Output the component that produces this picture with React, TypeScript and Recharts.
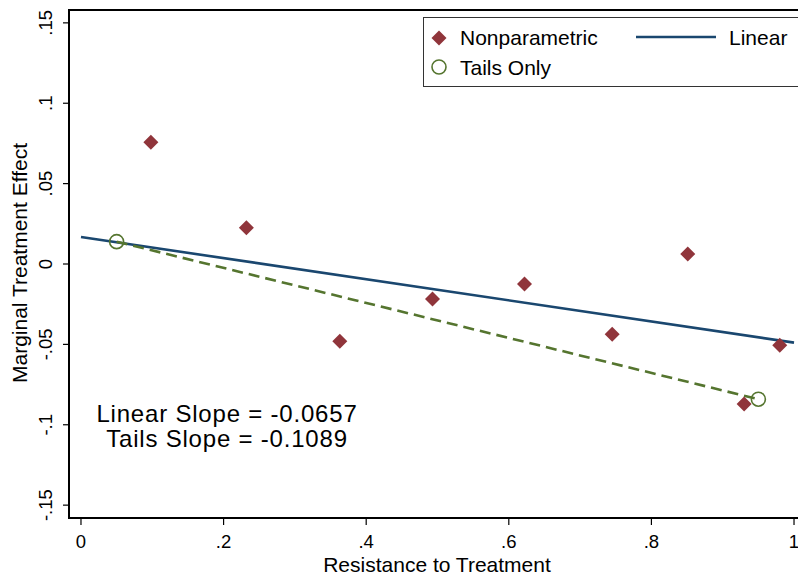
import React from "react";
import {
  ComposedChart,
  XAxis,
  YAxis,
  Scatter,
  Line,
  ReferenceArea,
  Customized,
} from "recharts";

// Nonparametric MTE estimates
const nonparamX = [0.098, 0.232, 0.363, 0.493, 0.622, 0.745, 0.851, 0.930, 0.980];
const nonparamY = [0.0758, 0.0226, -0.0480, -0.0218, -0.0124, -0.0437, 0.0062, -0.0871, -0.0506];

// Linear fit endpoints (slope -0.0657)
const linearX = [0, 1];
const linearY = [0.0168, -0.0489];

// Tails-only fit (slope -0.1089)
const tailsX = [0.05, 0.95];
const tailsY = [0.0139, -0.0841];

const xTicks = [0, 0.2, 0.4, 0.6, 0.8, 1];
const xTickLabels = ["0", ".2", ".4", ".6", ".8", "1"];
const yTicks = [-0.15, -0.1, -0.05, 0, 0.05, 0.1, 0.15];
const yTickLabels = ["-.15", "-.1", "-.05", "0", ".05", ".1", ".15"];

const xDomain: [number, number] = [-0.0168, 1.0168];
const yDomain: [number, number] = [-0.158, 0.158];

const NAVY = "#1A476F";
const MAROON = "#90353B";
const GREEN = "#55752F";
const FONT = "'Liberation Sans', Arial, Helvetica, sans-serif";

const toPoints = (xs: number[], ys: number[]) => xs.map((x, i) => ({ x, y: ys[i] }));

const nonparamData = toPoints(nonparamX, nonparamY);
const linearData = toPoints(linearX, linearY);
const tailsData = toPoints(tailsX, tailsY);

const Diamond = (props: any) => {
  const { cx, cy } = props;
  const r = 7.5;
  return (
    <polygon
      points={`${cx},${cy - r} ${cx + r},${cy} ${cx},${cy + r} ${cx - r},${cy}`}
      fill={MAROON}
    />
  );
};

const HollowCircle = (props: any) => {
  const { cx, cy } = props;
  return <circle cx={cx} cy={cy} r={7} fill="none" stroke={GREEN} strokeWidth={1.6} />;
};

const XTick = (props: any) => {
  const { x, y, payload } = props;
  const i = xTicks.indexOf(payload.value);
  return (
    <text x={x} y={y + 23} textAnchor="middle" fontFamily={FONT} fontSize={18.5} fill="#000">
      {i >= 0 ? xTickLabels[i] : payload.value}
    </text>
  );
};

const YTick = (props: any) => {
  const { x, y, payload } = props;
  const i = yTicks.indexOf(payload.value);
  const tx = x - 11;
  return (
    <text
      x={tx}
      y={y}
      transform={`rotate(-90 ${tx} ${y})`}
      textAnchor="middle"
      fontFamily={FONT}
      fontSize={18.5}
      fill="#000"
    >
      {i >= 0 ? yTickLabels[i] : payload.value}
    </text>
  );
};

const Decorations = () => (
  <g fontFamily={FONT} fill="#000">
    {/* axis titles */}
    <text
      x={27}
      y={263}
      transform="rotate(-90 27 263)"
      textAnchor="middle"
      fontSize={21}
    >
      Marginal Treatment Effect
    </text>
    <text x={437} y={572} textAnchor="middle" fontSize={21}>
      Resistance to Treatment
    </text>

    {/* slope annotations */}
    <text x={227} y={422} textAnchor="middle" fontSize={24} letterSpacing={0.8}>
      Linear Slope = -0.0657
    </text>
    <text x={227} y={447} textAnchor="middle" fontSize={24} letterSpacing={0.8}>
      Tails Slope = -0.1089
    </text>

    {/* legend */}
    <rect x={423.5} y={17.5} width={400} height={69} fill="#fff" stroke="#333" strokeWidth={1} />
    <polygon points="439,30.5 446.5,38 439,45.5 431.5,38" fill={MAROON} />
    <text x={460} y={45} fontSize={21}>Nonparametric</text>
    <line x1={636} y1={37} x2={716} y2={37} stroke={NAVY} strokeWidth={2.6} />
    <text x={729} y={45} fontSize={21}>Linear</text>
    <circle cx={439} cy={67} r={7} fill="none" stroke={GREEN} strokeWidth={1.6} />
    <text x={460} y={75} fontSize={21}>Tails Only</text>
  </g>
);

export default function App() {
  return (
    <div
      style={{
        position: "absolute",
        left: 0,
        top: 0,
        width: 798,
        height: 578,
        overflow: "hidden",
        background: "#fff",
      }}
    >
      <ComposedChart
        width={806}
        height={578}
        margin={{ top: 10, right: 0, bottom: 0, left: 0 }}
      >
        <XAxis
          dataKey="x"
          type="number"
          domain={xDomain}
          ticks={xTicks}
          allowDataOverflow
          height={60}
          tickSize={7}
          tickMargin={0}
          tickLine={{ stroke: "#000", strokeWidth: 1.2 }}
          axisLine={false}
          tick={<XTick />}
        />
        <YAxis
          dataKey="y"
          type="number"
          domain={yDomain}
          ticks={yTicks}
          allowDataOverflow
          width={69}
          tickSize={6}
          tickMargin={0}
          tickLine={{ stroke: "#000", strokeWidth: 1.2 }}
          axisLine={false}
          tick={<YTick />}
        />
        <ReferenceArea
          x1={xDomain[0]}
          x2={xDomain[1]}
          y1={yDomain[0]}
          y2={yDomain[1]}
          fill="none"
          fillOpacity={0}
          stroke="#000"
          strokeWidth={2}
          ifOverflow="visible"
        />
        <Line
          data={linearData}
          dataKey="y"
          type="linear"
          stroke={NAVY}
          strokeWidth={2.6}
          dot={false}
          activeDot={false}
          isAnimationActive={false}
        />
        <Line
          data={tailsData}
          dataKey="y"
          type="linear"
          stroke={GREEN}
          strokeWidth={2.6}
          strokeDasharray="11 6"
          dot={false}
          activeDot={false}
          isAnimationActive={false}
        />
        <Scatter data={nonparamData} shape={<Diamond />} isAnimationActive={false} />
        <Scatter data={tailsData} shape={<HollowCircle />} isAnimationActive={false} />
        <Customized component={<Decorations />} />
      </ComposedChart>
    </div>
  );
}
